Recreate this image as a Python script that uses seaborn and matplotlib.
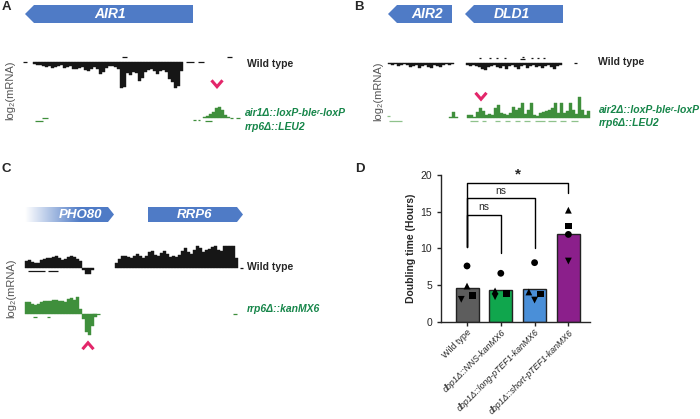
import numpy as np
import pandas as pd
import matplotlib
matplotlib.use("Agg")
import matplotlib.pyplot as plt
import seaborn as sns
from matplotlib.patches import Polygon
from matplotlib.colors import LinearSegmentedColormap

# ---------------- Panel D data ----------------
strains = ["Wild type", "dbp1Δ::NNS-kanMX6", "dbp1Δ::long-pTEF1-kanMX6",
           "dbp1Δ::short-pTEF1-kanMX6"]
bar_hours = [4.64, 4.32, 4.5, 11.9]
rep_circle = [7.6, 6.6, 8.05, 11.9]
rep_tri_up = [4.86, 4.2, 4.05, 15.2]
rep_tri_down = [3.05, 3.4, 2.95, 8.27]
rep_square = [3.6, 3.85, 3.77, 13.05]
sig_pairs = [(0, 1), (0, 2), (0, 3)]
sig_labels = ["ns", "ns", "*"]
sig_heights = [14.55, 16.8, 18.9]
sig_leg_ends = [(10.2, 9.4), (10.2, 10.0), (10.2, 17.5)]

# ---------------- Track data (log2 mRNA, arbitrary units) ----------------
A_wt_start = 33
A_wt_vals = [-2, -3, -3, -4, -5, -4, -6, -5, -4, -3, -6, -5, -4, -7, -8, -6, -5, -9, -10, -7,
             -5, -8, -13, -11, -6, -4, -4, -5, -7, -27, -26, -12, -14, -11, -12, -20, -17, -11, -9, -8,
             -10, -13, -10, -9, -11, -18, -21, -27, -25, -10]
A_wt_dash_x0 = [23, 122, 186, 198, 227]
A_wt_dash_x1 = [27, 127, 194, 204, 232]
A_wt_dash_y = [0, 5, 0, 0, 5]

A_mut_start = 203
A_mut_vals = [1, 2, 4, 6, 10, 11, 8, 3, 1]
A_mut_dash_x0 = [35, 42, 193, 198, 205, 230, 236]
A_mut_dash_x1 = [43, 48, 196, 200, 212, 233, 240]
A_mut_dash_y = [-3.5, -0.5, -2.5, -2.5, -3.5, 0, 0]

B_wt_start = 388
B_wt_vals = [-1, -2, -1, -3, -2, -1, -2, -4, -3, -2, -5, -3, -2, -4, -5, -2, -3, -4, -2, -1, -2, -1,
             np.nan, np.nan, np.nan, np.nan,
             -2, -3, -2, -3, -4, -6, -7, -4, -3, -2, -4, -5, -3, -6, -3, -2, -4, -6, -3, -2,
             -5, -3, -2, -4, -3, -5, -3, -2, -4, -6, -3, -2]
B_wt_dash_x0 = [479, 489, 496, 504, 520, 521.5, 531, 537, 543, 574]
B_wt_dash_x1 = [481, 491, 498, 506, 525, 523.5, 533, 539, 545, 577]
B_wt_dash_y = [5, 5, 5, 5, 4.5, 6.5, 5, 5, 5, 0]

B_mut_start = 449
B_mut_vals = [0.5, 6, 0.5, np.nan, np.nan, np.nan, 3, 3, 0.5, 6, 10, 7, 3, 4, 3, 10, 13, 5, 4, 3,
              5, 11, 8, 10, 15, 4, 8, 15, 3, 2, 5, 6, 7, 8, 10, 15, 5, 15, 5, 7,
              15, 8, 4, 21, 8, 3, 7]
B_mut_dash_x0 = [389, 470, 482, 495, 505, 515, 524, 535, 548, 560, 571, 387]
B_mut_dash_x1 = [402, 478, 486, 500, 510, 520, 530, 545, 556, 566, 578, 390]
B_mut_dash_y = [-3, -3, -3, -3, -3, -3, -3, -3, -3, -3, -3, 1.5]

C_wt_start = 25
C_wt_vals = [7, 8, 6, 5, 5, 8, 9, 10, 10, 11, 12, 10, 8, 9, 11, 12, 11, 9, 7,
             -2, -6, -6, -2,
             np.nan, np.nan, np.nan, np.nan, np.nan, np.nan, np.nan,
             5, 9, 12, 12, 11, 10, 12, 14, 12, 10, 12, 16, 17, 13, 12, 15, 17, 14, 11, 12,
             11, 13, 17, 20, 16, 14, 18, 22, 20, 16, 18, 19, 21, 22, 18, 17, 22, 22, 22, 22, 10]
C_wt_dash_x0 = [28, 48, 240]
C_wt_dash_x1 = [45, 58, 243]
C_wt_dash_y = [-2.5, -2.5, 0]

C_mut_start = 25
C_mut_vals = [12, 12, 10, 9, 10, 12, 13, 13, 13, 14, 14, 13, 13, 12, 15, 16, 14, 17, 5,
              -5, -18, -21, -12, -3]
C_mut_dash_x0 = [33, 47, 92, 233]
C_mut_dash_x1 = [37, 50, 100, 237]
C_mut_dash_y = [-2.5, -2.5, 0, 0]

# ---------------- Style ----------------
W, H = 700, 419
BIN = 3
TRACK_BLACK = "#161616"
TRACK_GREEN = "#3f8f3c"
LIGHT_GREEN = "#8fc28c"
LABEL_GREEN = "#17864a"
GENE_BLUE = "#4f7bc6"
CHEV = "#e3266a"
bar_colors = ["#5d5d5d", "#10a64d", "#4a8fd8", "#8b1f8b"]

sns.set_style("ticks")
plt.rcParams["font.family"] = ["Liberation Sans", "DejaVu Sans"]

fig = plt.figure(figsize=(W / 100, H / 100), dpi=100)


def px_axes(x0, y0, x1, y1, **kw):
    return fig.add_axes([x0 / W, 1 - y1 / H, (x1 - x0) / W, (y1 - y0) / H], **kw)


def track(xa, xb, baseline, start, vals, dx0, dx1, dy, color, dash_color=None, half=30):
    ax = px_axes(xa, baseline - half, xb, baseline + half)
    ax.set_xlim(xa, xb)
    ax.set_ylim(-half, half)
    ax.axis("off")
    pos = start + BIN * np.arange(len(vals))
    v = np.array(vals, dtype=float)
    ax.bar(pos, v, width=BIN, align="edge", color=color, edgecolor=color, linewidth=0.3)
    ax.hlines(dy, dx0, dx1, color=dash_color or color, linewidth=0.9)
    return ax


track(0, 350, 61.5, A_wt_start, A_wt_vals, A_wt_dash_x0, A_wt_dash_x1, A_wt_dash_y, TRACK_BLACK)
track(0, 350, 117.5, A_mut_start, A_mut_vals, A_mut_dash_x0, A_mut_dash_x1, A_mut_dash_y, TRACK_GREEN)
track(350, 700, 63.5, B_wt_start, B_wt_vals, B_wt_dash_x0, B_wt_dash_x1, B_wt_dash_y, TRACK_BLACK)
track(350, 700, 117.5, B_mut_start, B_mut_vals, B_mut_dash_x0, B_mut_dash_x1, B_mut_dash_y,
      TRACK_GREEN, dash_color=LIGHT_GREEN)
track(0, 350, 268.3, C_wt_start, C_wt_vals, C_wt_dash_x0, C_wt_dash_x1, C_wt_dash_y, TRACK_BLACK)
track(0, 350, 314.3, C_mut_start, C_mut_vals, C_mut_dash_x0, C_mut_dash_x1, C_mut_dash_y, TRACK_GREEN)

# ---------------- Overlay (gene models, labels, arrows) ----------------
ov = fig.add_axes([0, 0, 1, 1])
ov.set_xlim(0, W)
ov.set_ylim(H, 0)
ov.axis("off")


def gene_left(x0, x1, yc, name, tx, h=18, head=9):
    pts = [(x0, yc), (x0 + head, yc - h / 2), (x1, yc - h / 2), (x1, yc + h / 2), (x0 + head, yc + h / 2)]
    ov.add_patch(Polygon(pts, closed=True, facecolor=GENE_BLUE, edgecolor="none"))
    ov.text(tx, yc + 0.5, name, color="white", fontsize=10, fontweight="bold", fontstyle="italic",
            ha="center", va="center")


def gene_right(x0, x1, yc, name, tx, h=15, head=6, fade=False):
    pts = [(x0, yc - h / 2), (x1 - head, yc - h / 2), (x1, yc), (x1 - head, yc + h / 2), (x0, yc + h / 2)]
    poly = Polygon(pts, closed=True, facecolor=GENE_BLUE if not fade else "none", edgecolor="none")
    ov.add_patch(poly)
    if fade:
        cmap = LinearSegmentedColormap.from_list("fade", ["#ffffff", GENE_BLUE])
        grad = np.clip(np.linspace(0, 1.6, 256), 0, 1)[None, :]
        im = ov.imshow(grad, cmap=cmap, extent=(x0, x1, yc + h / 2, yc - h / 2), aspect="auto",
                       interpolation="bilinear", zorder=1)
        im.set_clip_path(poly)
    ov.text(tx, yc + 0.5, name, color="white", fontsize=9.5, fontweight="bold", fontstyle="italic",
            ha="center", va="center", zorder=3)


gene_left(25, 193, 14, "AIR1", 110)
gene_left(388, 452, 14, "AIR2", 427)
gene_left(465, 563, 14, "DLD1", 512)
gene_right(25, 114, 214.5, "PHO80", 81, fade=True)
gene_right(148, 243, 214.5, "RRP6", 195)


def chevron(x, y, down=True, w=5.5, h=3.2):
    s = 1 if down else -1
    ov.plot([x - w, x, x + w], [y - s * h, y + s * h, y - s * h], color=CHEV, lw=2.2,
            solid_capstyle="butt", solid_joinstyle="miter")


chevron(217, 83.5)
chevron(481, 96)
chevron(88, 346, down=False)

for lbl, x, y in [("A", 2, 7), ("B", 354, 7), ("C", 1, 169), ("D", 355, 169)]:
    ov.text(x, y, lbl, fontsize=9.5, fontweight="bold", ha="left", va="center")

for x, y in [(247, 64), (598, 62), (247, 267)]:
    ov.text(x, y, "Wild type", fontsize=7.5, fontweight="bold", ha="left", va="center")

green_labels = [("air1Δ::loxP-bleʳ-loxP", 245, 113), ("rrp6Δ::LEU2", 245, 127),
                ("air2Δ::loxP-bleʳ-loxP", 599, 110), ("rrp6Δ::LEU2", 599, 123),
                ("rrp6Δ::kanMX6", 247, 309)]
for t, x, y in green_labels:
    ov.text(x, y, t, fontsize=7.5, fontweight="bold", fontstyle="italic", color=LABEL_GREEN,
            ha="left", va="center")

for x, y in [(10, 90), (378, 91), (11, 288)]:
    ov.text(x, y, "log₂(mRNA)", fontsize=8, color="#555555", rotation=90, ha="center", va="center")

# ---------------- Panel D ----------------
axD = px_axes(441, 175, 590, 321.7)
df_bars = pd.DataFrame({"strain": strains, "hours": bar_hours})
sns.barplot(data=df_bars, x="strain", y="hours", hue="strain", order=strains, hue_order=strains,
            palette=bar_colors, saturation=1, width=0.68, edgecolor="#222222", linewidth=1,
            legend=False, ax=axD, zorder=2)

offset_circle = [0, 0, 0, 0]
offset_up = [0, -0.17, -0.17, 0]
offset_down = [-0.17, -0.17, 0, 0]
offset_square = [0.17, 0.18, 0.18, 0]
rows = []
for shape, vals, offs in [("circle", rep_circle, offset_circle), ("up", rep_tri_up, offset_up),
                          ("down", rep_tri_down, offset_down), ("square", rep_square, offset_square)]:
    for i, (v, o) in enumerate(zip(vals, offs)):
        rows.append({"xpos": i + o, "hours": v, "shape": shape})
df_pts = pd.DataFrame(rows)
sns.scatterplot(data=df_pts, x="xpos", y="hours", style="shape",
                markers={"circle": "o", "up": "^", "down": "v", "square": "s"},
                color="black", s=24, linewidth=0, legend=False, ax=axD, zorder=3)

axD.set_xlim(-0.77, 3.64)
axD.set_ylim(0, 20)
axD.set_yticks([0, 5, 10, 15, 20])
axD.set_xticks(range(len(strains)))
axD.set_xticklabels(strains, rotation=45, ha="right", rotation_mode="anchor", fontsize=6.4)
for i, lab in enumerate(axD.get_xticklabels()):
    if i > 0:
        lab.set_fontstyle("italic")
axD.tick_params(axis="y", labelsize=7.5, length=3, width=1)
axD.tick_params(axis="x", length=3, width=1, pad=1.5)
axD.set_xlabel("")
axD.set_ylabel("Doubling time (Hours)", fontsize=7.5, fontweight="bold", labelpad=3)
for s in ["top", "right"]:
    axD.spines[s].set_visible(False)
for s in ["left", "bottom"]:
    axD.spines[s].set_linewidth(1)

for (a, b), lab, h, (la, lb) in zip(sig_pairs, sig_labels, sig_heights, sig_leg_ends):
    axD.plot([a, a, b, b], [la, h, h, lb], color="black", lw=1, clip_on=False, zorder=4)
    if lab == "*":
        axD.text((a + b) / 2, h + 0.2, lab, ha="center", va="bottom", fontsize=11,
                 fontweight="bold", clip_on=False)
    else:
        axD.text((a + b) / 2, h + 0.35, lab, ha="center", va="bottom", fontsize=7.5, clip_on=False)

fig.savefig("out.png", dpi=100)
